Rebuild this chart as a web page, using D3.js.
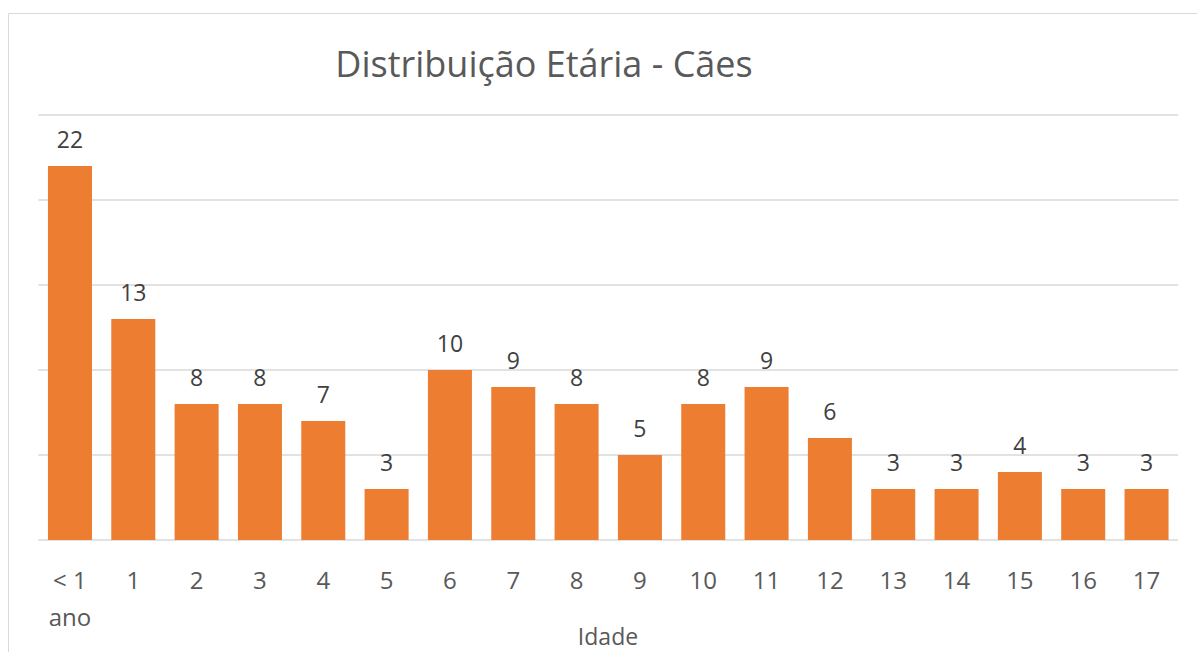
<!DOCTYPE html>
<html>
<head>
<meta charset="utf-8">
<script src="https://cdn.jsdelivr.net/npm/d3@7"></script>
<style>
  body { margin: 0; background: #fff; }
  text { font-family: "Open Sans", "Noto Sans", sans-serif; }
</style>
</head>
<body>
<script>
const categories = ["< 1 ano", "1", "2", "3", "4", "5", "6", "7", "8", "9", "10", "11", "12", "13", "14", "15", "16", "17"];
const values = [22, 13, 8, 8, 7, 3, 10, 9, 8, 5, 8, 9, 6, 3, 3, 4, 3, 3];
const yTicks = [0, 5, 10, 15, 20, 25];

const w = 1197;
const h = 652;
const plotLeft = 38.3;
const plotRight = 1178.2;
const plotBottom = 540;
const plotTop = 115;

const svg = d3.select("body").append("svg").attr("width", w).attr("height", h);

// chart frame (cut off on right and bottom)
svg.append("path")
  .attr("d", `M8.5,${h + 2}V13.5H${w + 2}`)
  .attr("fill", "none")
  .attr("stroke", "#d9d9d9")
  .attr("stroke-width", 1);

const x = d3.scaleBand()
  .domain(categories)
  .range([plotLeft, plotRight])
  .paddingInner(0.305)
  .paddingOuter(0.1525);

const y = d3.scaleLinear().domain([0, 25]).range([plotBottom, plotTop]);

svg.append("g")
  .selectAll("line")
  .data(yTicks)
  .enter()
  .append("line")
  .attr("x1", plotLeft)
  .attr("x2", plotRight)
  .attr("y1", (d) => y(d))
  .attr("y2", (d) => y(d))
  .attr("stroke", "#d9d9d9")
  .attr("stroke-width", 1.5);

svg.append("g")
  .selectAll("rect")
  .data(values)
  .enter()
  .append("rect")
  .attr("x", (d, i) => x(categories[i]))
  .attr("y", (d) => y(d))
  .attr("width", x.bandwidth())
  .attr("height", (d) => y(0) - y(d))
  .attr("fill", "#ed7d31");

svg.append("g")
  .selectAll("text")
  .data(values)
  .enter()
  .append("text")
  .attr("x", (d, i) => x(categories[i]) + x.bandwidth() / 2)
  .attr("y", (d) => y(d) - 18)
  .attr("text-anchor", "middle")
  .attr("fill", "#404040")
  .style("font-size", "23px")
  .text((d) => d);

// category labels
const xl = svg.append("g")
  .selectAll("text")
  .data(categories)
  .enter()
  .append("text")
  .attr("x", (d) => x(d) + x.bandwidth() / 2)
  .attr("y", 589)
  .attr("text-anchor", "middle")
  .attr("fill", "#595959")
  .style("font-size", "24px");

xl.each(function (d) {
  const t = d3.select(this);
  if (d === "< 1 ano") {
    t.append("tspan").text("< 1");
    t.append("tspan").attr("x", x(d) + x.bandwidth() / 2).attr("dy", 37).text("ano");
  } else {
    t.text(d);
  }
});

svg.append("text")
  .attr("x", 608)
  .attr("y", 645)
  .attr("text-anchor", "middle")
  .attr("fill", "#595959")
  .style("font-size", "23px")
  .text("Idade");

svg.append("text")
  .attr("x", 544)
  .attr("y", 77)
  .attr("text-anchor", "middle")
  .attr("fill", "#595959")
  .style("font-size", "36px")
  .text("Distribuição Etária - Cães");
</script>
</body>
</html>
